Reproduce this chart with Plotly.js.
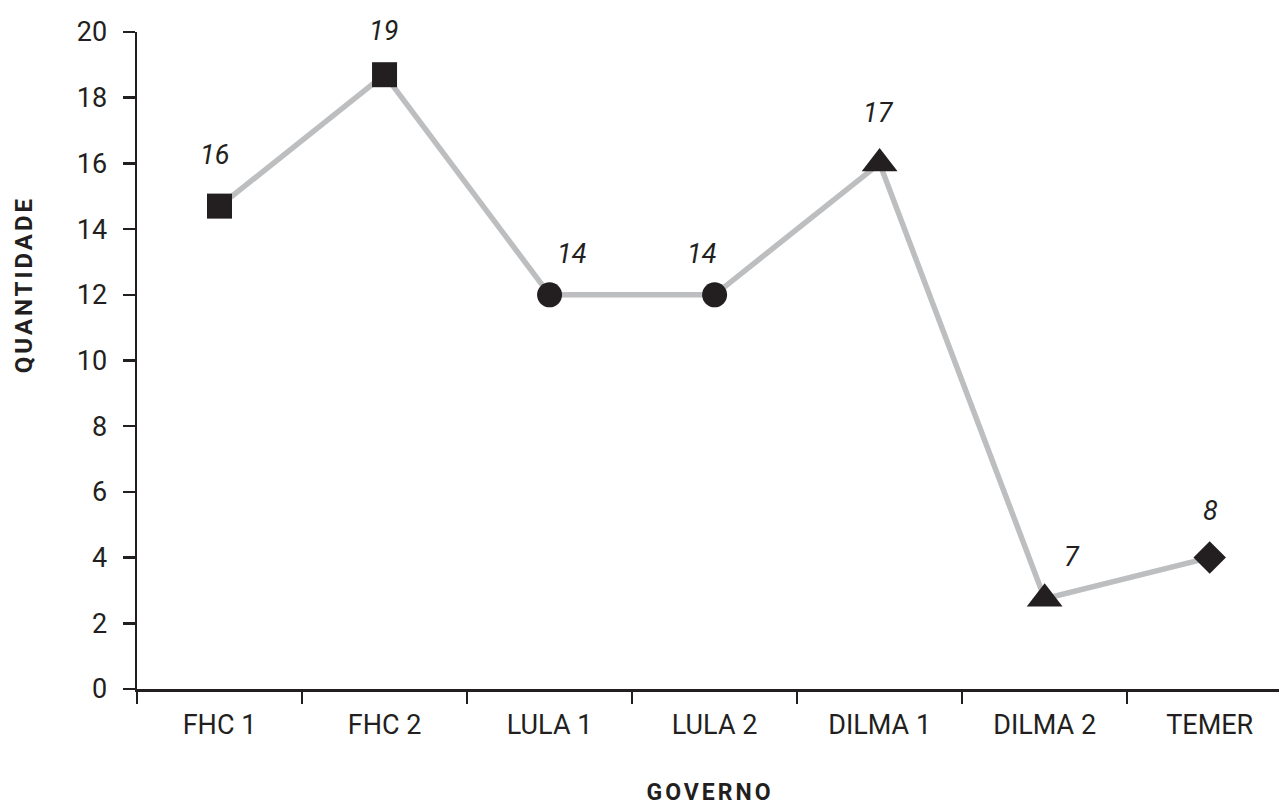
<!DOCTYPE html>
<html>
<head>
<meta charset="utf-8">
<script src="https://cdn.plot.ly/plotly-3.0.1.min.js"></script>
<style>
  html, body { margin: 0; padding: 0; background: #fff; }
  #chart { width: 1279px; height: 810px; }
  g.annotation[data-index="7"] text, g.annotation[data-index="8"] text { letter-spacing: 3px; }
</style>
</head>
<body>
<div id="chart"></div>
<script>
// Data
const governos = ["FHC 1", "FHC 2", "LULA 1", "LULA 2", "DILMA 1", "DILMA 2", "TEMER"];
const quantidade = [14.7, 18.7, 12, 12, 16, 2.75, 4];
const rotulos = ["16", "19", "14", "14", "17", "7", "8"];
const simbolos = ["square", "square", "circle", "circle", "triangle-up", "triangle-up", "diamond"];
const yTicks = [0, 2, 4, 6, 8, 10, 12, 14, 16, 18, 20];

// Label offsets (style, px)
const labelDx = [-5, -1, 22, -13, -1, 27, 1];
const labelDy = [51, 44, 41, 41, 50, 42, 47];
const markerSizes = [25, 25, 25, 25, 31, 31, 25];

const dark = "#231f20";
const font = "Roboto, 'Open Sans', sans-serif";

const trace = {
  type: "scatter",
  mode: "lines+markers",
  x: governos,
  y: quantidade,
  line: { color: "#bcbec0", width: 5.5 },
  marker: { symbol: simbolos, size: markerSizes, color: dark, opacity: 1, line: { width: 0 } },
  cliponaxis: false,
  hoverinfo: "skip"
};

const annotations = governos.map((g, i) => ({
  x: g, y: quantidade[i], xref: "x", yref: "y",
  text: rotulos[i], showarrow: false,
  xshift: labelDx[i], yshift: labelDy[i],
  xanchor: "center", yanchor: "middle",
  font: { family: font, size: 27, color: dark, style: "italic" }
}));

annotations.push({
  xref: "paper", yref: "paper", x: -0.099, y: 0.616,
  text: "QUANTIDADE", textangle: -90, showarrow: false,
  xanchor: "center", yanchor: "middle",
  font: { family: font, size: 24, color: dark, weight: 700 }
});
annotations.push({
  xref: "paper", yref: "paper", x: 0.502, y: -0.158,
  text: "GOVERNO", showarrow: false,
  xanchor: "center", yanchor: "middle",
  font: { family: font, size: 23, color: dark, weight: 700 }
});

const layout = {
  width: 1279, height: 810,
  margin: { l: 137, r: 0, t: 32, b: 121, pad: 0 },
  paper_bgcolor: "#fff", plot_bgcolor: "#fff",
  showlegend: false,
  font: { family: font, color: dark },
  xaxis: {
    type: "category",
    range: [-0.5, 6.42],
    tickson: "boundaries",
    ticks: "outside", ticklen: 12, tickwidth: 2.5, tickcolor: dark,
    showline: true, linecolor: dark, linewidth: 2.5,
    showgrid: false, zeroline: false,
    tickfont: { family: font, size: 27, color: dark },
    ticklabelstandoff: 10
  },
  yaxis: {
    range: [0, 20],
    tickmode: "array", tickvals: yTicks, ticktext: yTicks.map(String),
    ticks: "outside", ticklen: 12, tickwidth: 2.5, tickcolor: dark,
    showline: true, linecolor: dark, linewidth: 2.5,
    showgrid: false, zeroline: false,
    tickfont: { family: font, size: 27, color: dark },
    ticklabelstandoff: 10
  },
  annotations: annotations
};

Plotly.newPlot("chart", [trace], layout, { displayModeBar: false, staticPlot: true });
</script>
</body>
</html>
